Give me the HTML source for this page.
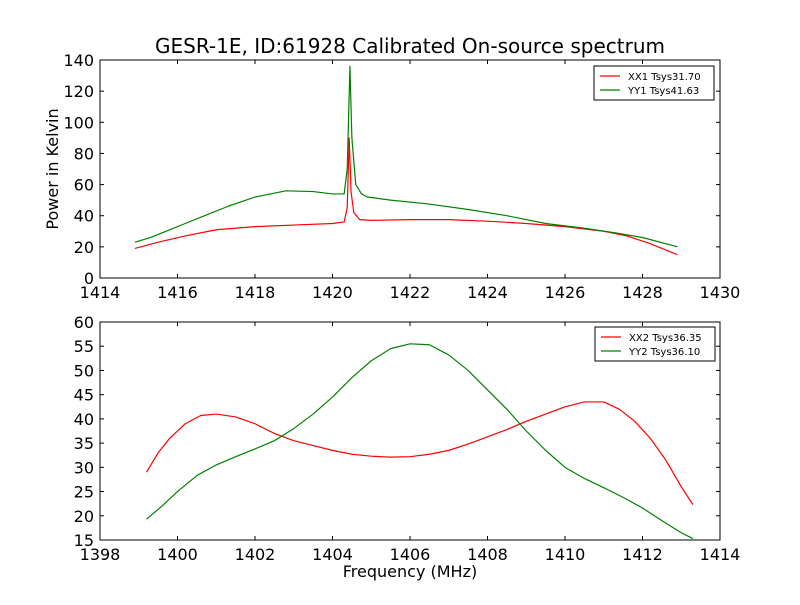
<!DOCTYPE html>
<html><head><meta charset="utf-8"><style>
body{margin:0;background:#fff;}
svg text{font-family:"DejaVu Sans","Liberation Sans",sans-serif;fill:#000;}
</style></head><body>
<svg id="c" width="800" height="600" xmlns="http://www.w3.org/2000/svg">
<rect width="800" height="600" fill="#fff"/>
<text x="410" y="53" font-size="20" text-anchor="middle">GESR-1E, ID:61928 Calibrated On-source spectrum</text>
<text x="58" y="169" font-size="16" text-anchor="middle" transform="rotate(-90 58 169)">Power in Kelvin</text>
<text x="410" y="577" font-size="16" text-anchor="middle">Frequency (MHz)</text>
<g id="g"></g>
</svg>
<script>
const xx1F=[1414.9,1415.5,1416.2,1417,1418,1419,1420,1420.3,1420.38,1420.43,1420.48,1420.55,1420.7,1421,1422,1423,1424,1425,1426,1427,1427.6,1428.2,1428.9];
const xx1V=[19,23,27,31,33,34,35,36,45,90,55,42,37.5,37,37.5,37.5,36.5,35,33,30,27,22,15];
const yy1F=[1414.9,1415.3,1415.7,1416.2,1416.7,1417.3,1418,1418.8,1419.5,1420,1420.3,1420.38,1420.45,1420.5,1420.6,1420.75,1420.9,1421.5,1422.5,1423.5,1424.5,1425.5,1426.5,1427.3,1428,1428.9];
const yy1V=[23,26,30,35,40,46,52,56,55.5,54,54,70,136,90,60,54,52,50,47.5,44,40,35,32,29,26,20];
const xx2F=[1399.2,1399.5,1399.8,1400.2,1400.6,1401,1401.5,1402,1402.5,1403,1403.5,1404,1404.5,1405,1405.5,1406,1406.5,1407,1407.5,1408,1408.5,1409,1409.5,1410,1410.5,1411,1411.4,1411.8,1412.2,1412.6,1413,1413.3];
const xx2V=[29,33,36,39,40.7,41,40.4,39,37,35.5,34.5,33.5,32.7,32.3,32.1,32.2,32.7,33.5,34.8,36.3,37.8,39.5,41,42.5,43.5,43.5,42,39.5,36,31.5,26,22.3];
const yy2F=[1399.2,1399.6,1400,1400.5,1401,1401.5,1402,1402.5,1403,1403.5,1404,1404.5,1405,1405.5,1406,1406.5,1407,1407.5,1408,1408.5,1409,1409.5,1410,1410.5,1411,1411.5,1412,1412.5,1413,1413.3];
const yy2V=[19.3,22,25,28.3,30.5,32.2,33.8,35.5,38,41,44.5,48.5,52,54.5,55.5,55.3,53.2,50,46,42,37.5,33.5,30,27.7,25.8,23.8,21.6,19,16.5,15.3];
const topXT=[1414,1416,1418,1420,1422,1424,1426,1428,1430];
const topYT=[0,20,40,60,80,100,120,140];
const botXT=[1398,1400,1402,1404,1406,1408,1410,1412,1414];
const botYT=[15,20,25,30,35,40,45,50,55,60];
const NS='http://www.w3.org/2000/svg';
const g=document.getElementById('g');
function mk(t,a,p){const e=document.createElementNS(NS,t);for(const k in a)e.setAttribute(k,a[k]);(p||g).appendChild(e);return e;}
function axes(name,L,T,W,H,x0,x1,y0,y1,xt,yt,series,leg){
 const sx=v=>L+(v-x0)/(x1-x0)*W, sy=v=>T+H-(v-y0)/(y1-y0)*H;
 const grp=mk('g',{});
 
 
 series.forEach(s=>{
  const p=mk('polyline',{points:s.f.map((f,i)=>sx(f)+','+sy(s.v[i])).join(' '),fill:'none',stroke:s.c,'stroke-width':1.2,'stroke-linejoin':'round'},grp);
  
  
 });
 mk('rect',{x:L,y:T,width:W,height:H,fill:'none',stroke:'#000','stroke-width':1},grp);
 xt.forEach(v=>{const x=sx(v);
  mk('line',{x1:x,x2:x,y1:T+H,y2:T+H-4,stroke:'#000'},grp);mk('line',{x1:x,x2:x,y1:T,y2:T+4,stroke:'#000'},grp);
  const t=mk('text',{x:x,y:T+H+20,'font-size':16,'text-anchor':'middle'},grp);t.textContent=v;
  
  });
 yt.forEach(v=>{const y=sy(v);
  mk('line',{x1:L,x2:L+4,y1:y,y2:y,stroke:'#000'},grp);mk('line',{x1:L+W,x2:L+W-4,y1:y,y2:y,stroke:'#000'},grp);
  const t=mk('text',{x:L-6,y:y+6,'font-size':16,'text-anchor':'end'},grp);t.textContent=v;
  
  });
 const lg=mk('g',{},grp);
 
 
 mk('rect',{x:leg[0],y:leg[1],width:120,height:34,fill:'#fff',stroke:'#000'},lg);
 series.forEach((s,i)=>{const y=leg[1]+10+i*14;
  mk('line',{x1:leg[0]+6,x2:leg[0]+26,y1:y,y2:y,stroke:s.c,'stroke-width':1.2},lg);
  const t=mk('text',{x:leg[0]+34,y:y+4,'font-size':10},lg);t.textContent=s.l;
  
  });
}
axes('top-plot',100,60,620,218,1414,1430,0,140,topXT,topYT,[{f:xx1F,v:xx1V,c:'#ff0000',n:'xx1-line',l:'XX1 Tsys31.70'},{f:yy1F,v:yy1V,c:'#008000',n:'yy1-line',l:'YY1 Tsys41.63'}],[594,66]);
axes('bottom-plot',100,322,620,218,1398,1414,15,60,botXT,botYT,[{f:xx2F,v:xx2V,c:'#ff0000',n:'xx2-line',l:'XX2 Tsys36.35'},{f:yy2F,v:yy2V,c:'#008000',n:'yy2-line',l:'YY2 Tsys36.10'}],[595,327]);
</script>
</body></html>
